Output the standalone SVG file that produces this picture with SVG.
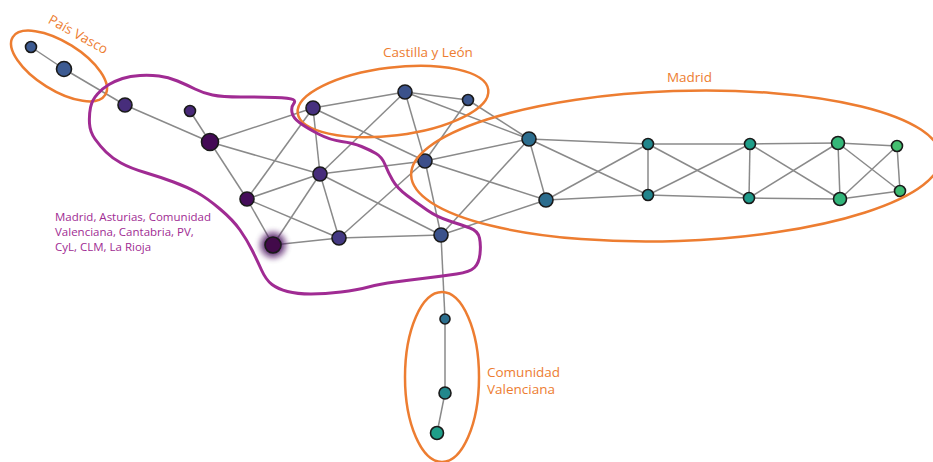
<svg xmlns="http://www.w3.org/2000/svg" width="933" height="462" viewBox="0 0 933 462">
<style>
.e{stroke:#8a8a8a;stroke-width:1.5;fill:none}
.n{stroke:#1a1a1a;stroke-width:1.6}
.og{fill:none;stroke:#ED7D31;stroke-width:2.5}
.pg{fill:none;stroke:#A02B93;stroke-width:3;stroke-linejoin:round}
.ot{font-family:"Open Sans","Noto Sans",sans-serif;font-size:13.5px;fill:#ED7D31}
.pt{font-family:"Open Sans","Noto Sans",sans-serif;font-size:11.5px;fill:#A02B93}
</style>
<defs>
<filter id="glow" x="-1" y="-1" width="3" height="3"><feGaussianBlur stdDeviation="3"/></filter>
</defs>
<rect width="933" height="462" fill="#ffffff"/>
<g id="connectors">
<line class="e" x1="31" y1="47" x2="64" y2="69"/>
<line class="e" x1="64" y1="69" x2="125" y2="105"/>
<line class="e" x1="125" y1="105" x2="210" y2="142"/>
<line class="e" x1="190" y1="111" x2="210" y2="142"/>
<line class="e" x1="210" y1="142" x2="313" y2="108"/>
<line class="e" x1="210" y1="142" x2="320" y2="174"/>
<line class="e" x1="210" y1="142" x2="247" y2="199"/>
<line class="e" x1="313" y1="108" x2="405" y2="92"/>
<line class="e" x1="313" y1="108" x2="425" y2="161"/>
<line class="e" x1="313" y1="108" x2="320" y2="174"/>
<line class="e" x1="313" y1="108" x2="247" y2="199"/>
<line class="e" x1="405" y1="92" x2="468" y2="100"/>
<line class="e" x1="405" y1="92" x2="425" y2="161"/>
<line class="e" x1="405" y1="92" x2="320" y2="174"/>
<line class="e" x1="405" y1="92" x2="529" y2="139"/>
<line class="e" x1="468" y1="100" x2="425" y2="161"/>
<line class="e" x1="468" y1="100" x2="529" y2="139"/>
<line class="e" x1="320" y1="174" x2="425" y2="161"/>
<line class="e" x1="320" y1="174" x2="247" y2="199"/>
<line class="e" x1="320" y1="174" x2="273" y2="245"/>
<line class="e" x1="320" y1="174" x2="339" y2="238"/>
<line class="e" x1="320" y1="174" x2="441" y2="235"/>
<line class="e" x1="247" y1="199" x2="273" y2="245"/>
<line class="e" x1="247" y1="199" x2="339" y2="238"/>
<line class="e" x1="273" y1="245" x2="339" y2="238"/>
<line class="e" x1="339" y1="238" x2="425" y2="161"/>
<line class="e" x1="339" y1="238" x2="441" y2="235"/>
<line class="e" x1="425" y1="161" x2="441" y2="235"/>
<line class="e" x1="425" y1="161" x2="529" y2="139"/>
<line class="e" x1="425" y1="161" x2="546" y2="200"/>
<line class="e" x1="441" y1="235" x2="529" y2="139"/>
<line class="e" x1="441" y1="235" x2="546" y2="200"/>
<line class="e" x1="529" y1="139" x2="546" y2="200"/>
<line class="e" x1="529" y1="139" x2="648" y2="144"/>
<line class="e" x1="529" y1="139" x2="648" y2="195"/>
<line class="e" x1="546" y1="200" x2="648" y2="144"/>
<line class="e" x1="546" y1="200" x2="648" y2="195"/>
<line class="e" x1="648" y1="144" x2="648" y2="195"/>
<line class="e" x1="648" y1="144" x2="750" y2="144"/>
<line class="e" x1="648" y1="144" x2="749" y2="198"/>
<line class="e" x1="648" y1="195" x2="750" y2="144"/>
<line class="e" x1="648" y1="195" x2="749" y2="198"/>
<line class="e" x1="750" y1="144" x2="749" y2="198"/>
<line class="e" x1="750" y1="144" x2="838" y2="143"/>
<line class="e" x1="750" y1="144" x2="840" y2="199"/>
<line class="e" x1="749" y1="198" x2="838" y2="143"/>
<line class="e" x1="749" y1="198" x2="840" y2="199"/>
<line class="e" x1="838" y1="143" x2="840" y2="199"/>
<line class="e" x1="838" y1="143" x2="897" y2="146"/>
<line class="e" x1="838" y1="143" x2="900" y2="191"/>
<line class="e" x1="840" y1="199" x2="897" y2="146"/>
<line class="e" x1="840" y1="199" x2="900" y2="191"/>
<line class="e" x1="897" y1="146" x2="900" y2="191"/>
<line class="e" x1="441" y1="235" x2="445" y2="319"/>
<line class="e" x1="445" y1="319" x2="445" y2="393"/>
<line class="e" x1="445" y1="393" x2="437" y2="433"/>
</g>
<g id="nodes">
<circle id="nA" class="n" cx="31" cy="47" r="5.5" fill="#3d5b92"/>
<circle id="nB" class="n" cx="64" cy="69" r="7.5" fill="#3d5b92"/>
<circle id="nC" class="n" cx="125" cy="105" r="7" fill="#472d7b"/>
<circle id="nD" class="n" cx="190" cy="111" r="5.5" fill="#482878"/>
<circle id="nE" class="n" cx="210" cy="142" r="8.5" fill="#440a56"/>
<circle id="nF" class="n" cx="313" cy="108" r="7" fill="#46307e"/>
<circle id="nG" class="n" cx="405" cy="92" r="7" fill="#3b528b"/>
<circle id="nH" class="n" cx="468" cy="100" r="5.5" fill="#3b558c"/>
<circle id="nI" class="n" cx="320" cy="174" r="7" fill="#472d7b"/>
<circle id="nJ" class="n" cx="247" cy="199" r="7" fill="#450d5a"/>
<g id="nK">
<circle cx="273" cy="245" r="12.5" fill="#4a0f5e" opacity="0.85" filter="url(#glow)"/>
<circle class="n" cx="273" cy="245" r="8" fill="#420a4a"/>
</g>
<circle id="nL" class="n" cx="339" cy="238" r="7" fill="#443983"/>
<circle id="nM" class="n" cx="425" cy="161" r="7" fill="#3d4f8a"/>
<circle id="nN" class="n" cx="441" cy="235" r="7" fill="#3b528b"/>
<circle id="nO" class="n" cx="529" cy="139" r="7" fill="#2c6d8e"/>
<circle id="nP" class="n" cx="546" cy="200" r="7" fill="#2c6d8e"/>
<circle id="nQ" class="n" cx="648" cy="144" r="5.5" fill="#21868c"/>
<circle id="nR" class="n" cx="648" cy="195" r="5.5" fill="#21848c"/>
<circle id="nS" class="n" cx="750" cy="144" r="5.5" fill="#1f9e89"/>
<circle id="nT" class="n" cx="749" cy="198" r="5.5" fill="#1f9a8a"/>
<circle id="nU" class="n" cx="838" cy="143" r="6.5" fill="#35b779"/>
<circle id="nV" class="n" cx="840" cy="199" r="6.5" fill="#32b57a"/>
<circle id="nW" class="n" cx="897" cy="146" r="5.5" fill="#44bf70"/>
<circle id="nX" class="n" cx="900" cy="191" r="5.5" fill="#3ebc73"/>
<circle id="nY" class="n" cx="445" cy="319" r="5" fill="#2c6f8e"/>
<circle id="nZ" class="n" cx="445" cy="393" r="6" fill="#22888c"/>
<circle id="nAA" class="n" cx="437" cy="433" r="6.5" fill="#1f9e89"/>
</g>
<g id="groups">
<ellipse id="gPV" class="og" cx="59" cy="66" rx="54.5" ry="24" transform="rotate(32 59 66)"/>
<ellipse id="gCyL" class="og" cx="393" cy="101.5" rx="96" ry="34" transform="rotate(-7 393 101.5)"/>
<ellipse id="gMad" class="og" cx="676" cy="166" rx="265" ry="75" transform="rotate(-2 676 166)"/>
<ellipse id="gCV" class="og" cx="442" cy="377" rx="37" ry="85"/>
<path id="gMulti" class="pg" d="M90.5,107.5 Q92,100 97.5,94 Q103,88 109,84.5 Q115,81 122.5,78.5 Q130,76 140,75.5 Q150,75 159,76 Q168,77 177.5,81 Q187,85 195,89 Q203,93 212.5,95 Q222,97 241,97 Q260,97 275,97.5 Q290,98 293,99.5 Q296,101 293.5,104 Q291,107 292,112.5 Q293,118 300,123 Q307,128 318.5,134 Q330,140 341.5,141.5 Q353,143 361.5,146.5 Q370,150 376,153.5 Q382,157 385,164.5 Q388,172 392.5,180 Q397,188 407,195.5 Q417,203 427,210 Q437,217 449.5,221 Q462,225 470,228 Q478,231 479.5,238 Q481,245 480,254 Q479,263 474.5,267.5 Q470,272 456.5,274 Q443,276 426.5,278 Q410,280 395,282 Q380,284 368.5,287 Q357,290 341,292 Q325,294 311,294 Q297,294 287.5,291.5 Q278,289 272,284.5 Q266,280 261.5,270 Q257,260 252,250 Q247,240 240,230 Q233,220 220,209 Q207,198 197,192.5 Q187,187 173.5,182 Q160,177 145,172.5 Q130,168 121,163 Q112,158 106,152 Q100,146 95,139 Q90,132 89.5,123.5 Q89,115 90.5,107.5 Z"/>
</g>
<g id="labels">
<text class="ot" x="76" y="38.5" text-anchor="middle" transform="rotate(29 76 38.5)">País Vasco</text>
<text class="ot" x="428" y="57" text-anchor="middle">Castilla y León</text>
<text class="ot" x="689.5" y="82" text-anchor="middle">Madrid</text>
<text class="ot" x="487" y="377">Comunidad</text>
<text class="ot" x="487" y="394">Valenciana</text>
<text class="pt" x="55" y="221">Madrid, Asturias, Comunidad</text>
<text class="pt" x="55" y="236">Valenciana, Cantabria, PV,</text>
<text class="pt" x="55" y="250.5">CyL, CLM, La Rioja</text>
</g>
</svg>
